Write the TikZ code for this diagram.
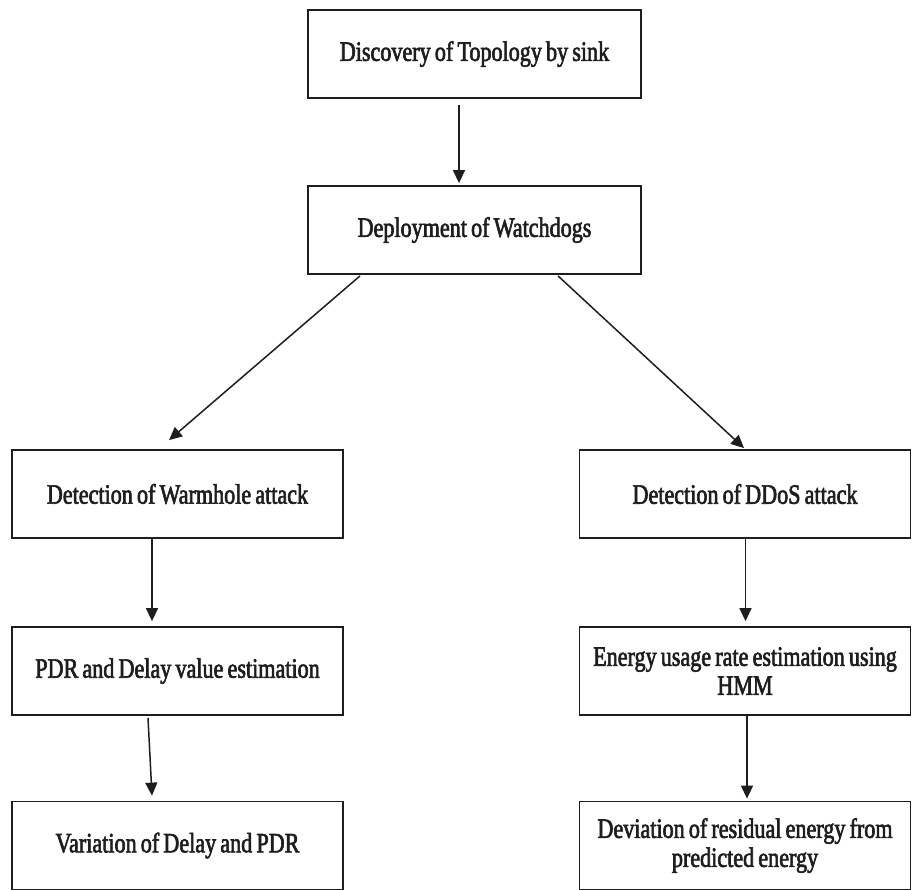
\documentclass[tikz,border=0pt]{standalone}
\usepackage{fontspec}
\setmainfont{Liberation Serif}[FakeStretch=0.79,FakeBold=2.2,WordSpace=0.75]
\usetikzlibrary{arrows.meta}
\definecolor{ink}{HTML}{1E1E1E}
\tikzset{
  x=1pt, y=1pt,
  stage/.style={draw=ink, line width=1.8pt, fill=white, text=ink,
    inner sep=0pt, align=center, font=\fontsize{28}{29}\selectfont},
  upper/.style={stage, minimum width=333pt, minimum height=88pt},
  lower/.style={stage, minimum width=331pt, minimum height=88pt},
  flow/.style={draw=ink, line width=1.5pt,
    -{Triangle[length=13pt,width=12pt]}},
}
\begin{document}
\begin{tikzpicture}
  \clip (0,0) rectangle (912,-890);
  \fill[white] (0,0) rectangle (912,-890);

  % central column
  \node[upper] (topo) at (474.5,-54)  {Discovery of Topology by sink};
  \node[upper] (dep)  at (474.5,-230) {Deployment of Watchdogs};

  % wormhole branch
  \node[lower] (worm) at (177.5,-494) {Detection of Warmhole attack};
  \node[lower] (pdr)  at (177.5,-671) {PDR and Delay value estimation};
  \node[lower] (var)  at (177.5,-845.5) {Variation of Delay and PDR};

  % DDoS branch
  \node[lower] (ddos) at (745,-494) {Detection of DDoS attack};
  \node[lower] (hmm)  at (745,-671) {Energy usage rate estimation using\\HMM};
  \node[lower] (dev)  at (745,-845.5) {Deviation of residual energy from\\predicted energy};

  % connectors
  \draw[flow] ([xshift=-15.5pt,yshift=-6pt]topo.south) -- ([xshift=-15.5pt,yshift=2pt]dep.north);
  \draw[flow] ([xshift=-114.5pt,yshift=-1pt]dep.south) -- ([xshift=-8.5pt,yshift=9pt]worm.north);
  \draw[flow] ([xshift=83.5pt,yshift=-1pt]dep.south) -- ([xshift=-1pt,yshift=1pt]ddos.north);
  \draw[flow] ([xshift=-25.5pt]worm.south) -- ([xshift=-25.5pt,yshift=5pt]pdr.north);
  \draw[flow] ([xshift=-29.5pt,yshift=-2pt]pdr.south) -- ([xshift=-25.5pt,yshift=5pt]var.north);
  \draw[flow] ([xshift=0.5pt]ddos.south) -- ([xshift=0.5pt,yshift=5pt]hmm.north);
  \draw[flow] ([xshift=2pt]hmm.south) -- ([xshift=2pt,yshift=2pt]dev.north);
\end{tikzpicture}
\end{document}
